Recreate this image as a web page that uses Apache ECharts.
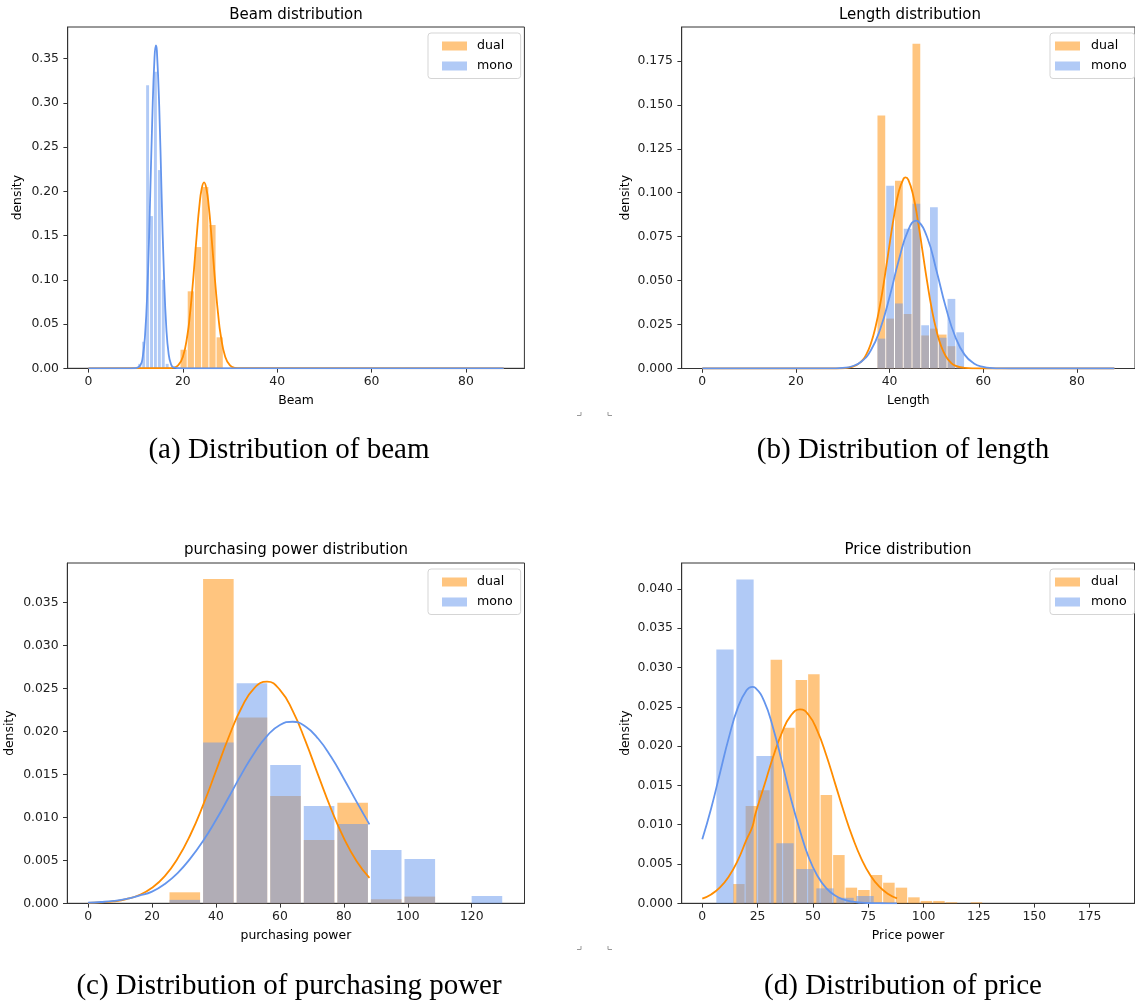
<!DOCTYPE html>
<html>
<head>
<meta charset="utf-8">
<script src="https://cdn.jsdelivr.net/npm/echarts@6/dist/echarts.min.js"></script>
<style>
  html, body { margin: 0; padding: 0; background: #fff; }
  #chart { width: 1135px; height: 1003px; }
</style>
</head>
<body>
<div id="chart"></div>
<script>
// ---- data ----
// (a) beam
const beamDualEdges = [19.4, 20.93, 22.46, 23.99, 25.52, 27.05, 28.58];
const beamDualDensity = [0.021, 0.087, 0.137, 0.205, 0.162, 0.035];
const beamMonoEdges = [10.46, 11.29, 12.12, 12.95, 13.78, 14.61, 15.44, 16.27, 17.1];
const beamMonoDensity = [0.005, 0.03, 0.32, 0.172, 0.335, 0.224, 0.10, 0.005];
const beamDualFitX = [0, 17, 18, 19, 20, 21, 21.5, 22, 22.5, 23, 23.5, 24, 24.5, 25, 25.5, 26, 26.5, 27, 27.5, 28, 29, 30, 31, 32, 88];
const beamDualFitY = [0, 0.0001, 0.0006, 0.0032, 0.0127, 0.0385, 0.0604, 0.0883, 0.1207, 0.1538, 0.183, 0.2029, 0.21, 0.2029, 0.183, 0.1538, 0.1207, 0.0883, 0.0604, 0.0385, 0.0127, 0.0032, 0.0006, 0.0001, 0];
const beamMonoFitX = [0, 9, 10, 11, 11.5, 12, 12.5, 13, 13.5, 14, 14.3, 14.5, 15, 15.5, 16, 16.5, 17, 17.5, 18, 19, 20, 88];
const beamMonoFitY = [0, 0, 0.0001, 0.0034, 0.0127, 0.0378, 0.091, 0.177, 0.277, 0.351, 0.365, 0.359, 0.296, 0.197, 0.106, 0.0458, 0.016, 0.0045, 0.001, 0.0001, 0, 0];

// (b) length
const lengthEdges = [37.3, 39.17, 41.04, 42.91, 44.78, 46.65, 48.52, 50.39, 52.26, 54.13, 56.0];
const lengthDualDensity = [0.144, 0.0284, 0.1068, 0.031, 0.1847, 0.0188, 0.0227, 0.0193, 0.0127, 0.001];
const lengthMonoDensity = [0.017, 0.104, 0.037, 0.0795, 0.0938, 0.0246, 0.0917, 0.0175, 0.0396, 0.0206];
const lengthDualFitX = [0, 28, 30, 32, 34, 35, 36, 37, 38, 39, 40, 41, 42, 43, 43.4, 44, 45, 46, 47, 48, 49, 50, 51, 52, 53, 54, 56, 58, 60, 88];
const lengthDualFitY = [0, 0, 0.00014, 0.00087, 0.0041, 0.0079, 0.01424, 0.0238, 0.0368, 0.053, 0.0708, 0.0877, 0.1011, 0.1081, 0.1087, 0.1073, 0.0989, 0.0846, 0.0672, 0.0496, 0.0339, 0.0216, 0.01274, 0.007, 0.00356, 0.00168, 0.0003, 0.00004, 0, 0];
const lengthMonoFitX = [0, 26, 28, 30, 32, 34, 36, 38, 40, 42, 44, 45.7, 46, 48, 50, 52, 54, 56, 58, 60, 62, 64, 66, 88];
const lengthMonoFitY = [0, 0.00002, 0.00008, 0.00035, 0.00129, 0.004, 0.01036, 0.0225, 0.0408, 0.062, 0.0789, 0.0841, 0.0839, 0.0748, 0.0558, 0.0348, 0.0182, 0.0079, 0.0029, 0.0009, 0.00023, 0.00005, 0, 0];

// (c) purchasing power
const powerEdges = [25, 35.5, 46, 56.5, 67, 77.5, 88, 98.5, 109, 119.5, 130];
const powerDualDensity = [0.00128, 0.0377, 0.0216, 0.01248, 0.00736, 0.0117, 0.00047, 0.00078, 0, 0];
const powerMonoDensity = [0.0004, 0.0187, 0.02558, 0.01608, 0.01131, 0.00922, 0.0062, 0.00515, 0, 0.00085];
const powerFitX = [0, 4, 8, 12, 16, 20, 24, 28, 32, 36, 40, 44, 48, 52, 56, 60, 64, 68, 72, 76, 80, 84, 88];
const powerDualFitY = [0.00004, 0.0001, 0.00022, 0.00048, 0.00096, 0.0018, 0.00316, 0.0052, 0.00797, 0.01144, 0.01538, 0.01934, 0.02274, 0.02503, 0.02577, 0.02482, 0.02237, 0.01886, 0.01487, 0.01098, 0.00758, 0.0049, 0.00296];
const powerMonoFitY = [0.00007, 0.00015, 0.00028, 0.00051, 0.00089, 0.00135, 0.00225, 0.00352, 0.00522, 0.00727, 0.00968, 0.01233, 0.01502, 0.01749, 0.01948, 0.02074, 0.02111, 0.02055, 0.01913, 0.01703, 0.01449, 0.01179, 0.00918];

// (d) price
const priceDualEdges = [13.7, 19.35, 25.0, 30.65, 36.3, 41.95, 47.6, 53.25, 58.9, 64.55, 70.2, 75.85, 81.5, 87.15, 92.8, 98.45, 104.1, 109.75, 115.4, 121.05, 126.7];
const priceDualDensity = [0.00245, 0.01237, 0.0144, 0.031, 0.02234, 0.0284, 0.02913, 0.01378, 0.00614, 0.00199, 0.00169, 0.0036, 0.00262, 0.00199, 0.00076, 0.0003, 0.0003, 0.00013, 0, 0.00013];
const priceMonoEdges = [5.74, 14.78, 23.82, 32.86, 41.9, 50.94, 59.98, 69.02, 78.06];
const priceMonoDensity = [0.0323, 0.0412, 0.01873, 0.00763, 0.00436, 0.0019, 0.0007, 0.00093];
const priceFitX = [0, 4, 8, 12, 16, 20, 22.6, 24, 28, 32, 36, 40, 44.15, 48, 52, 56, 60, 64, 68, 72, 76, 80, 84, 88];
const priceDualFitY = [0.0006, 0.00113, 0.00202, 0.00342, 0.00542, 0.0081, 0.0097, 0.01136, 0.01498, 0.01861, 0.02173, 0.02388, 0.02468, 0.02399, 0.02194, 0.01887, 0.01526, 0.01161, 0.00832, 0.0056, 0.00355, 0.00211, 0.00119, 0.00062];
const priceMonoFitY = [0.00815, 0.01207, 0.01658, 0.02108, 0.02483, 0.02711, 0.02755, 0.02742, 0.0257, 0.02232, 0.01796, 0.01338, 0.00924, 0.00592, 0.00351, 0.00193, 0.00098, 0.00046, 0.0002, 0.00008, 0.00003, 0.00001, 0, 0];

// ticks
const beamXTicks = [0, 20, 40, 60, 80];
const beamYTicks = [0, 0.05, 0.10, 0.15, 0.20, 0.25, 0.30, 0.35];
const lengthXTicks = [0, 20, 40, 60, 80];
const lengthYTicks = [0, 0.025, 0.05, 0.075, 0.10, 0.125, 0.15, 0.175];
const powerXTicks = [0, 20, 40, 60, 80, 100, 120];
const powerYTicks = [0, 0.005, 0.01, 0.015, 0.02, 0.025, 0.03, 0.035];
const priceXTicks = [0, 25, 50, 75, 100, 125, 150, 175];
const priceYTicks = [0, 0.005, 0.01, 0.015, 0.02, 0.025, 0.03, 0.035, 0.04];

const seriesNames = ['dual', 'mono'];

// ---- helpers ----
const ORANGE = '#FF8C00';
const BLUE = '#6495ED';
const ORANGE_A = 'rgba(255,140,0,0.5)';
const BLUE_A = 'rgba(100,149,237,0.5)';
const FONT = 'DejaVu Sans';

const toBins = (edges, dens) => dens.map((d, i) => [edges[i], edges[i + 1], d]);
const toPts = (xs, ys) => xs.map((x, i) => [x, ys[i]]);

const barRenderer = gap => (params, api) => {
  const p0 = api.coord([api.value(0), api.value(2)]);
  const p1 = api.coord([api.value(1), 0]);
  return {
    type: 'rect',
    shape: { x: p0[0] + gap / 2, y: p0[1], width: Math.max(p1[0] - p0[0] - gap, 0.5), height: p1[1] - p0[1] },
    style: { fill: api.visual('color') }
  };
};

const xAxis = (idx, min, max, ticks, name) => ({
  type: 'value', gridIndex: idx, min, max,
  name, nameLocation: 'middle', nameGap: 26,
  nameTextStyle: { fontFamily: FONT, fontSize: 12.4, color: '#000' },
  axisLine: { show: true, onZero: false, lineStyle: { color: '#333', width: 1 } },
  axisTick: { show: true, length: 4.3, customValues: ticks, lineStyle: { color: '#333' } },
  axisLabel: { customValues: ticks, margin: 7, fontFamily: FONT, fontSize: 12.4, color: '#222' },
  splitLine: { show: false }
});

const yAxis = (idx, max, ticks, digits, gap) => ({
  type: 'value', gridIndex: idx, min: 0, max,
  name: 'density', nameLocation: 'middle', nameGap: gap, nameRotate: 90,
  nameTextStyle: { fontFamily: FONT, fontSize: 12.4, color: '#000' },
  axisLine: { show: true, onZero: false, lineStyle: { color: '#333', width: 1 } },
  axisTick: { show: true, length: 4.3, customValues: ticks, lineStyle: { color: '#333' } },
  axisLabel: { customValues: ticks, margin: 8.7, fontFamily: FONT, fontSize: 12.4, color: '#222',
    formatter: v => v.toFixed(digits) },
  splitLine: { show: false }
});

const barSeries = (idx, name, color, bins, gap) => ({
  type: 'custom', name, xAxisIndex: idx, yAxisIndex: idx,
  itemStyle: { color }, renderItem: barRenderer(gap),
  encode: { x: [0, 1], y: 2 }, data: bins, z: name === 'dual' ? 2 : 3
});

const lineSeries = (idx, color, pts) => ({
  type: 'line', xAxisIndex: idx, yAxisIndex: idx, data: pts,
  showSymbol: false, smooth: 0.5,
  lineStyle: { color, width: 1.8 }, itemStyle: { color }, z: 5, silent: true
});

// legend text sits 5px after the patch by default; textPad adds the rest
const legend = (left, top, pad, textPad) => ({
  left, top, orient: 'vertical', icon: 'rect',
  itemWidth: 25, itemHeight: 9, itemGap: 7,
  padding: pad, borderColor: '#d5d5d5', borderWidth: 1, borderRadius: 3,
  backgroundColor: 'rgba(255,255,255,0.8)',
  textStyle: { fontFamily: FONT, fontSize: 12.6, color: '#000', padding: [0, 0, 0, textPad] },
  data: seriesNames, selectedMode: false
});

const label = (x, y, text, font) => ({
  type: 'text', x, y,
  style: { text, font, fill: '#000', align: 'center', verticalAlign: 'middle' }
});

// small crop marks between the panels
const mark = (pts) => ({
  type: 'polyline', shape: { points: pts },
  style: { stroke: '#999', lineWidth: 1, fill: null }
});

const chart = echarts.init(document.getElementById('chart'), null, { renderer: 'canvas' });

chart.setOption({
  animation: false,
  backgroundColor: '#fff',
  grid: [
    { left: 67.7, top: 27, width: 456.7, height: 341.3, show: true, borderColor: '#333', borderWidth: 1 },
    { left: 681.7, top: 27, width: 457.3, height: 341.5, show: true, borderColor: '#333', borderWidth: 1 },
    { left: 67.3, top: 563, width: 457.2, height: 340.3, show: true, borderColor: '#333', borderWidth: 1 },
    { left: 681.7, top: 563, width: 452.8, height: 340.3, show: true, borderColor: '#333', borderWidth: 1 }
  ],
  xAxis: [
    xAxis(0, -4.4, 92.4, beamXTicks, 'Beam'),
    xAxis(1, -4.4, 92.4, lengthXTicks, 'Length'),
    xAxis(2, -6.5, 136.5, powerXTicks, 'purchasing power'),
    xAxis(3, -9.3, 195.3, priceXTicks, 'Price power')
  ],
  yAxis: [
    yAxis(0, 0.3857, beamYTicks, 2, 44),
    yAxis(1, 0.1943, lengthYTicks, 3, 50),
    yAxis(2, 0.03957, powerYTicks, 3, 52),
    yAxis(3, 0.04330, priceYTicks, 3, 50)
  ],
  legend: [
    legend(428, 33, [6.5, 8, 6, 14], 5),
    legend(1050, 33, [6.5, 8, 6, 5], 6),
    legend(428, 569, [6.5, 8, 6, 14], 5),
    legend(1050, 569, [6.5, 8, 6, 5], 6)
  ],
  series: [
    barSeries(0, 'dual', ORANGE_A, toBins(beamDualEdges, beamDualDensity), 1),
    barSeries(0, 'mono', BLUE_A, toBins(beamMonoEdges, beamMonoDensity), 1),
    lineSeries(0, ORANGE, toPts(beamDualFitX, beamDualFitY)),
    lineSeries(0, BLUE, toPts(beamMonoFitX, beamMonoFitY)),

    barSeries(1, 'dual', ORANGE_A, toBins(lengthEdges, lengthDualDensity), 1),
    barSeries(1, 'mono', BLUE_A, toBins(lengthEdges, lengthMonoDensity), 1),
    lineSeries(1, ORANGE, toPts(lengthDualFitX, lengthDualFitY)),
    lineSeries(1, BLUE, toPts(lengthMonoFitX, lengthMonoFitY)),

    barSeries(2, 'dual', ORANGE_A, toBins(powerEdges, powerDualDensity), 3),
    barSeries(2, 'mono', BLUE_A, toBins(powerEdges, powerMonoDensity), 3),
    lineSeries(2, ORANGE, toPts(powerFitX, powerDualFitY)),
    lineSeries(2, BLUE, toPts(powerFitX, powerMonoFitY)),

    barSeries(3, 'dual', ORANGE_A, toBins(priceDualEdges, priceDualDensity), 1),
    barSeries(3, 'mono', BLUE_A, toBins(priceMonoEdges, priceMonoDensity), 2.7),
    lineSeries(3, ORANGE, toPts(priceFitX, priceDualFitY)),
    lineSeries(3, BLUE, toPts(priceFitX, priceMonoFitY))
  ],
  graphic: [
    label(296, 15, 'Beam distribution', '15px "DejaVu Sans"'),
    label(910, 15, 'Length distribution', '15px "DejaVu Sans"'),
    label(296, 550, 'purchasing power distribution', '15px "DejaVu Sans"'),
    label(908, 550, 'Price distribution', '15px "DejaVu Sans"'),
    label(289, 450, '(a) Distribution of beam', '29px "Liberation Serif"'),
    label(903, 450, '(b) Distribution of length', '29px "Liberation Serif"'),
    label(289, 986, '(c) Distribution of purchasing power', '29px "Liberation Serif"'),
    label(903, 986, '(d) Distribution of price', '29px "Liberation Serif"'),
    mark([[581, 412], [581, 415.5], [577, 415.5]]),
    mark([[608, 412], [608, 415.5], [612, 415.5]]),
    mark([[581, 946], [581, 949.5], [577, 949.5]]),
    mark([[608, 946], [608, 949.5], [612, 949.5]])
  ]
});
</script>
</body>
</html>
